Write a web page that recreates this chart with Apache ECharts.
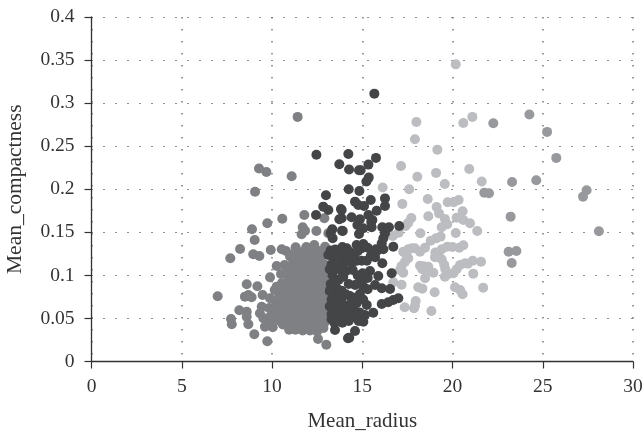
<!DOCTYPE html>
<html><head><meta charset="utf-8">
<script src="https://cdn.jsdelivr.net/npm/echarts@6/dist/echarts.min.js"></script>
<style>html,body{margin:0;padding:0;background:#fff}#c{width:644px;height:432px}</style>
</head><body><div id="c"></div>
<script>
const xTicks=[0,5,10,15,20,25,30];
const yTicks=[0,0.05,0.1,0.15,0.2,0.25,0.3,0.35,0.4];
const largeCluster=[[22.26,.2766],[24.26,.2867],[25.24,.2666],[25.75,.2364],[23.3,.2085],[24.64,.2104],[21.76,.196],[22.02,.1953],[27.43,.1988],[27.23,.1914],[28.11,.1513],[23.22,.1682],[23.11,.1275],[23.54,.1283],[23.28,.1144]];
const lightCluster=[[20.18,.345],[18.0,.278],[20.6,.277],[21.1,.284],[17.92,.258],[19.16,.246],[17.15,.227],[20.93,.2235],[18.05,.2146],[19.09,.219],[19.57,.206],[21.62,.209],[16.13,.202],[17.6,.2],[17.22,.183],[18.63,.1887],[19.73,.1849],[20.07,.1849],[20.34,.1875],[19.12,.1794],[19.25,.172],[20.56,.1744],[18.66,.1686],[17.72,.1667],[17.55,.1612],[17.4,.1574],[19.58,.1655],[19.71,.1593],[19.4,.1559],[20.23,.167],[20.6,.1643],[20.97,.1605],[21.37,.1516],[20.18,.1492],[18.22,.1489],[17.02,.1496],[16.69,.1458],[19.34,.145],[19.09,.143],[18.79,.1403],[20.6,.135],[20.38,.1322],[19.71,.1333],[19.4,.1303],[19.21,.1257],[19.03,.121],[19.4,.1187],[19.54,.1124],[18.48,.1322],[18.2,.1275],[17.92,.1315],[17.55,.1303],[17.27,.1275],[17.55,.1199],[17.37,.1159],[17.18,.1109],[17.09,.1063],[17.27,.1031],[18.2,.1113],[18.33,.1071],[18.66,.1101],[18.6,.1051],[18.94,.1031],[18.48,.0966],[21.12,.117],[21.58,.1159],[20.69,.114],[20.42,.112],[20.23,.1071],[20.05,.1024],[19.77,.1016],[19.58,.0985],[21.15,.102],[16.72,.092],[17.18,.0892],[18.1,.0862],[18.33,.0846],[19.01,.0804],[20.14,.0862],[20.42,.083],[20.56,.078],[21.7,.0857],[17.96,.0703],[17.92,.0648],[17.35,.0629],[17.87,.0618],[18.83,.0587],[20.0,.133],[19.05,.1265],[17.75,.1315],[17.45,.124],[18.4,.1105],[20.85,.1135],[19.6,.1075]];
const midCluster=[[11.42,.284],[9.28,.224],[9.69,.22],[11.09,.215],[9.06,.197],[11.79,.1701],[12.9,.1663],[10.57,.1658],[9.74,.1605],[8.89,.1535],[9.04,.1411],[8.23,.1307],[7.69,.1199],[8.96,.1245],[9.3,.1225],[9.93,.1295],[10.54,.1303],[10.78,.1283],[11.31,.1326],[11.7,.1559],[11.83,.1519],[11.64,.1477],[12.46,.1516],[13.12,.1489],[11.88,.1295],[12.34,.1353],[12.94,.1333],[10.26,.1109],[10.5,.1016],[9.89,.0978],[9.19,.0873],[8.6,.0897],[6.99,.0757],[8.69,.0772],[8.5,.0753],[8.87,.0746],[9.48,.0772],[9.89,.0734],[10.26,.0869],[8.19,.0595],[8.6,.0578],[8.6,.052],[7.73,.0494],[7.77,.0432],[8.69,.0432],[9.02,.0316],[9.74,.0235],[9.43,.0636],[9.33,.056],[9.52,.0502],[9.61,.0404],[10.04,.0397],[10.07,.0578],[10.44,.0598],[9.89,.052],[12.55,.0261],[13.01,.0195],
[11.0,.122],[11.5,.125],[12.0,.127],[12.5,.129],[12.85,.124],[12.95,.129],[11.3,.118],[11.7,.121],[12.2,.118],[12.7,.116],[12.9,.113],[10.7,.112],[11.1,.112],[11.6,.112],[12.05,.11],[12.5,.109],[12.9,.106],[11.0,.105],[11.55,.104],[12.0,.102],[12.4,.1],[12.85,.098],[10.9,.098],[11.35,.095],[11.75,.096],[12.2,.093],[12.65,.091],[12.95,.092],[10.55,.091],[11.2,.088],[11.6,.087],[12.05,.086],[12.5,.083],[12.9,.084],[10.35,.08],[10.85,.077],[11.3,.08],[11.75,.079],[12.2,.076],[12.65,.075],[12.95,.077],[10.6,.072],[11.05,.071],[11.5,.072],[11.95,.07],[12.4,.068],[12.85,.067],[10.4,.066],[10.85,.064],[11.3,.065],[11.7,.063],[12.15,.062],[12.6,.061],[12.95,.06],[10.55,.056],[11.0,.057],[11.45,.056],[11.9,.055],[12.3,.052],[12.85,.054],[12.95,.05],[10.75,.05],[11.2,.049],[11.65,.048],[12.05,.047],[12.7,.047],[12.9,.045],[11.0,.043],[11.4,.041],[11.85,.041],[12.25,.04],[12.65,.04],[12.85,.039],[10.95,.037],[11.3,.037],[11.7,.036],[12.1,.036],[12.5,.035],[10.6,.043],[10.35,.048],[10.2,.07],[12.35,.075],[11.15,.091],[12.35,.128],[11.9,.133],[12.7,.104],
[11.25,.125],[11.75,.128],[12.2,.124],[12.65,.121],[11.5,.116],[11.95,.116],[12.45,.114],[10.9,.108],[11.35,.108],[11.8,.106],[12.25,.105],[12.7,.11],[11.15,.1],[11.6,.098],[12.05,.097],[12.6,.098],[11.05,.092],[11.45,.09],[11.9,.091],[12.4,.089],[12.8,.09],[10.75,.085],[11.0,.082],[11.5,.083],[11.85,.083],[12.3,.081],[12.75,.081],[10.6,.078],[11.1,.076],[11.55,.077],[12.0,.075],[12.45,.074],[12.85,.073],[10.85,.069],[11.3,.069],[11.75,.068],[12.2,.068],[12.65,.067],[10.65,.063],[11.1,.063],[11.5,.06],[11.95,.061],[12.4,.06],[12.8,.06],[10.8,.057],[11.25,.054],[11.7,.054],[12.1,.053],[12.55,.054],[10.95,.05],[11.45,.048],[11.85,.048],[12.45,.046],[10.8,.044],[11.2,.043],[11.6,.042],[12.05,.041],[12.45,.041],[10.25,.06],[10.3,.054],[9.85,.062],[9.95,.045],[10.15,.083]];
const darkCluster=[[15.67,.311],[12.46,.24],[14.23,.241],[13.73,.229],[14.27,.223],[14.82,.222],[14.25,.2],[14.84,.198],[12.99,.193],[15.76,.2364],[15.34,.2286],[14.91,.222],[15.36,.2135],[15.23,.209],[14.6,.1856],[15.47,.1875],[16.26,.1894],[14.78,.1818],[15.1,.1806],[16.26,.1806],[15.8,.1751],[13.86,.176],[15.34,.1701],[14.41,.1675],[14.87,.1652],[15.56,.1643],[13.86,.1663],[14.73,.1585],[15.52,.1559],[15.06,.1547],[16.11,.1559],[16.48,.1559],[17.05,.1574],[13.92,.1516],[14.82,.1481],[16.26,.1489],[16.17,.1431],[16.08,.1373],[16.72,.1333],[16.17,.1303],[15.76,.1303],[15.06,.1365],[14.69,.1353],[14.97,.1315],[14.14,.1315],[13.82,.1275],[14.5,.1225],[15.47,.1225],[15.71,.121],[16.11,.114],[14.97,.117],[14.41,.114],[13.95,.114],[15.43,.1051],[15.02,.1024],[15.1,.0966],[14.47,.1063],[13.95,.0985],[15.89,.0993],[16.63,.1024],[15.71,.0888],[16.08,.085],[16.54,.0842],[15.06,.0869],[14.6,.0888],[14.87,.0784],[14.32,.076],[13.86,.0822],[17.0,.0734],[16.72,.0714],[16.44,.0688],[16.08,.0668],[15.25,.0656],[14.69,.0676],[15.61,.0567],[15.15,.054],[15.06,.0462],[14.6,.0513],[14.14,.056],[13.86,.0636],[13.77,.052],[14.6,.0354],[14.28,.0276],[12.84,.1798],[13.12,.1759],[13.82,.177],[13.73,.1652],[12.44,.1701],[13.34,.1535],[13.25,.1489],[13.36,.1431],[13.88,.1519],[14.21,.0269],[13.49,.0366],
[13.12,.1237],[13.5,.13],[13.9,.133],[13.4,.122],[13.3,.113],[13.6,.108],[14.1,.105],[13.35,.1],[13.7,.095],[13.5,.085],[13.45,.078],[13.85,.072],[13.5,.068],[13.4,.06],[13.55,.052],[13.9,.045],[13.45,.045],[14.3,.066],[14.25,.09],[14.05,.122],[13.25,.129],[13.7,.124],[14.3,.127],[14.75,.128],[15.3,.132],[13.65,.118],[14.2,.118],[14.7,.117],[15.25,.117],[13.2,.107],[13.85,.105],[14.75,.1],[15.3,.097],[13.25,.09],[13.6,.085],[14.85,.092],[13.3,.072],[13.65,.074],[14.1,.078],[14.6,.074],[15.05,.072],[13.3,.055],[13.7,.06],[14.15,.063],[14.5,.06],[14.85,.057],[13.7,.047],[14.25,.047],[14.8,.047],[13.3,.049],[14.05,.053],[15.5,.162],[15.8,.128],[15.3,.084],[13.2,.082],[13.2,.064]];
const color={large:'#98999c',light:'#bcbdc0',mid:'#7f8083',dark:'#434547'};
const font='"Liberation Serif",serif';
const mk=(d,c)=>({type:'scatter',data:d,symbolSize:10,itemStyle:{color:c,opacity:1},silent:true,animation:false});
const chart=echarts.init(document.getElementById('c'),null,{renderer:'canvas'});
chart.setOption({
 animation:false,
 grid:{left:91.5,right:11,top:17,bottom:70.5,containLabel:false,outerBoundsMode:'none'},
 xAxis:{type:'value',min:0,max:30,interval:5,name:'Mean_radius',nameLocation:'middle',nameGap:49,
  nameTextStyle:{fontFamily:font,fontSize:21,color:'#333'},
  axisLine:{onZero:false,lineStyle:{color:'#333',width:1.3}},
  axisTick:{show:true,length:7,lineStyle:{color:'#333',width:1.2}},
  axisLabel:{fontFamily:font,fontSize:19.5,color:'#333',margin:15,formatter:v=>xTicks.includes(v)?String(v):''},
  splitLine:{show:true,lineStyle:{color:'#777',width:1.5,type:[1.5,10.5]}}},
 yAxis:{type:'value',min:0,max:0.4,interval:0.05,name:'Mean_compactness',nameLocation:'middle',nameGap:65,
  nameTextStyle:{fontFamily:font,fontSize:21.5,color:'#333'},
  axisLine:{onZero:false,lineStyle:{color:'#333',width:1.3}},
  axisTick:{show:true,length:7,lineStyle:{color:'#333',width:1.2}},
  axisLabel:{fontFamily:font,fontSize:19.5,color:'#333',margin:17,formatter:v=>{const t=yTicks.find(k=>Math.abs(k-v)<1e-6);return t===undefined?'':String(t)}},
  splitLine:{show:true,lineStyle:{color:'#222',width:1,type:[1,11]}}},
 series:[mk(largeCluster,color.large),mk(lightCluster,color.light),mk(midCluster,color.mid),mk(darkCluster,color.dark)]
});
</script></body></html>
